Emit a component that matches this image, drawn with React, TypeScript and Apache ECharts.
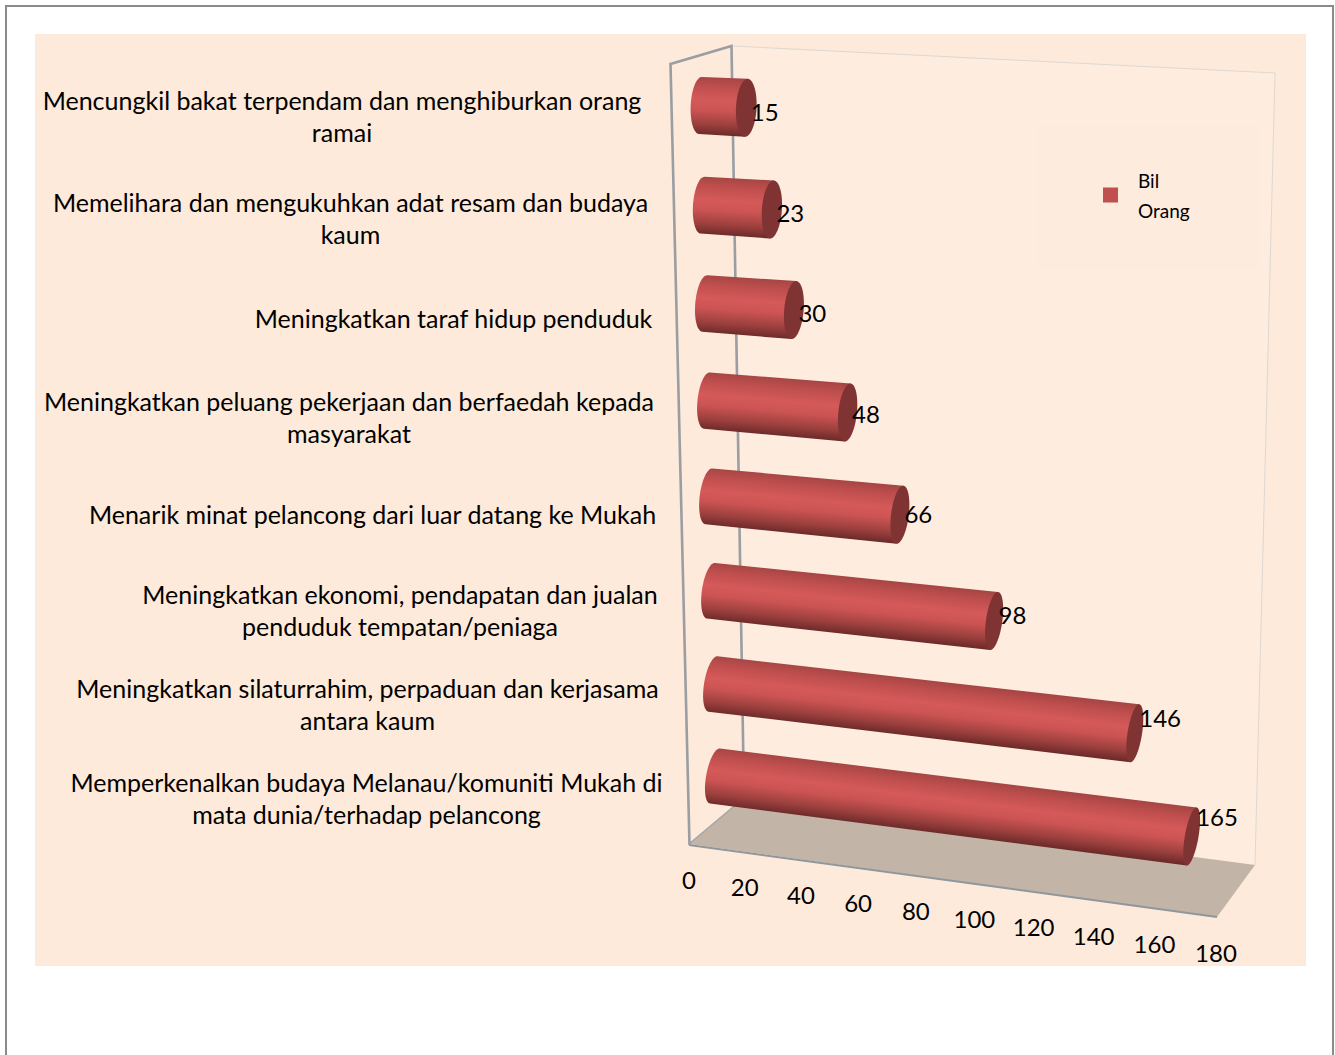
import React, { useEffect, useRef } from "react";
import * as echarts from "echarts";

// ---- data ----
const categories = [
  "Mencungkil bakat terpendam dan menghiburkan orang\nramai",
  "Memelihara dan mengukuhkan adat resam dan budaya\nkaum",
  "Meningkatkan taraf hidup penduduk",
  "Meningkatkan peluang pekerjaan dan berfaedah kepada\nmasyarakat",
  "Menarik minat pelancong dari luar datang ke Mukah",
  "Meningkatkan ekonomi, pendapatan dan jualan\npenduduk tempatan/peniaga",
  "Meningkatkan silaturrahim, perpaduan dan kerjasama\nantara kaum",
  "Memperkenalkan budaya Melanau/komuniti Mukah di\nmata dunia/terhadap pelancong",
];
const values = [15, 23, 30, 48, 66, 98, 146, 165];
const xTicks = [0, 20, 40, 60, 80, 100, 120, 140, 160, 180];
const seriesName = "Bil\nOrang";

// ---- layout (not data) ----
const labelCentreX = [342, 350.5, 453.5, 349, 372.5, 400, 367.5, 366.5];
const labelCentreY = [116, 218, 318, 417, 514, 610, 704, 797.5];
const FONT = "Lato, 'Open Sans', sans-serif";
const LABEL_SIZE = 25;
const VALUE_SIZE = 24;
const RED = "#C0504D";

type Pt = [number, number];
const mix = (a: number, b: number, t: number) => a + (b - a) * t;

// Plane of the bar axes: left ends at the first|last category, and the length
// of the full value range, which shrinks with depth and then levels off.
const cornerTL: Pt = [700.5, 105.5];
const cornerBL: Pt = [715, 776];
const rightYTop = 133.5;
const rightYBottom = 842;
const fullLengthTop = 549;
const fullLengthBottom = 520;

function project(u: number, v: number): Pt {
  const a = 1.048;
  const t = (v * a) / (1 + (a - 1) * v);
  const lx = mix(cornerTL[0], cornerBL[0], t);
  const ly = mix(cornerTL[1], cornerBL[1], t);
  const rx = lx + mix(fullLengthTop, fullLengthBottom, Math.min(1, t / 0.6));
  const ry = mix(rightYTop, rightYBottom, t);
  return [mix(lx, rx, u), mix(ly, ry, u)];
}

function ellipse(c: Pt, m: Pt, n: Pt, from: number, to: number, steps = 36): Pt[] {
  const out: Pt[] = [];
  for (let i = 0; i <= steps; i++) {
    const th = from + ((to - from) * i) / steps;
    out.push([
      c[0] + Math.cos(th) * m[0] + Math.sin(th) * n[0],
      c[1] + Math.cos(th) * m[1] + Math.sin(th) * n[1],
    ]);
  }
  return out;
}

// grid pixel -> normalised axis position, through the chart's own scales
function normalised(params: any, api: any, value: number, index: number) {
  const p = api.coord([value, index]);
  const cs = params.coordSys;
  const u = (p[0] - cs.x) / cs.width;
  const band = (p[1] - cs.y) / cs.height;
  const n = categories.length;
  const v = (band * n - 0.5) / (n - 1);
  return { u, v };
}

function renderBar(params: any, api: any) {
  const value = api.value(0);
  const index = api.value(1);
  const { u, v } = normalised(params, api, value, index);
  const start = project(0, v);
  const end = project(u, v);
  const dx = end[0] - start[0];
  const slope = (end[1] - start[1]) / dx;

  const tilt = mix(1.5, 5, v);
  const ryStart = mix(28.5, 27.5, v);
  const ryEnd = 29;
  const bStart = mix(9.8, 8.7, v);
  const bEnd = 10.5 - 1.2 * v - 2.8 * u;

  const mS: Pt = [tilt, -ryStart];
  const mE: Pt = [tilt, -ryEnd];
  const nS: Pt = [bStart, bStart * slope];
  const nE: Pt = [bEnd, bEnd * slope];

  // left half of the start ellipse, then straight to the end ellipse
  const leftArc = ellipse(start, mS, nS, 2 * Math.PI, Math.PI);
  const endTop: Pt = [end[0] + mE[0], end[1] + mE[1]];
  const endBottom: Pt = [end[0] - mE[0], end[1] - mE[1]];
  const body = [...leftArc, endBottom, endTop];

  const mid: Pt = [(start[0] + end[0]) / 2, (start[1] + end[1]) / 2];
  const r = (ryStart + ryEnd) / 2;
  const nl = Math.hypot(1, slope);
  const g = new echarts.graphic.LinearGradient(
    mid[0] + (slope / nl) * r,
    mid[1] - (1 / nl) * r,
    mid[0] - (slope / nl) * r,
    mid[1] + (1 / nl) * r,
    [
      { offset: 0, color: "#A64644" },
      { offset: 0.15, color: "#BD4E4D" },
      { offset: 0.4, color: "#D55A59" },
      { offset: 0.58, color: "#CB5453" },
      { offset: 0.82, color: "#9C403E" },
      { offset: 1, color: "#6E2B2A" },
    ],
    true
  );

  const labelY = end[1] + 5.2 - 0.07 * value - 0.0005 * value * value;
  return {
    type: "group",
    children: [
      { type: "polygon", shape: { points: body }, style: { fill: g } },
      {
        type: "polygon",
        shape: { points: ellipse(end, mE, nE, 0, 2 * Math.PI, 72) },
        style: { fill: "#7F3433" },
      },
      {
        type: "text",
        style: {
          x: end[0] + 4.5,
          y: labelY,
          text: String(value),
          fill: "#000",
          font: `${VALUE_SIZE}px ${FONT}`,
          align: "left",
          verticalAlign: "middle",
        },
      },
    ],
  };
}

function renderCategory(_params: any, api: any) {
  const i = api.value(0);
  return {
    type: "text",
    style: {
      x: labelCentreX[i],
      y: labelCentreY[i],
      text: categories[i],
      fill: "#000",
      font: `${LABEL_SIZE}px ${FONT}`,
      align: "center",
      verticalAlign: "middle",
      lineHeight: 32,
    },
  };
}

function renderTick(_params: any, api: any) {
  const tick = api.value(0);
  const u = tick / xTicks[xTicks.length - 1];
  const a = 0.945;
  const f = (u * a) / (1 + (a - 1) * u);
  return {
    type: "text",
    style: {
      x: 689 + 527 * f,
      y: 879 + 73 * f,
      text: String(tick),
      fill: "#000",
      font: `${VALUE_SIZE}px ${FONT}`,
      align: "center",
      verticalAlign: "middle",
    },
  };
}

const backdrop = [
  { type: "rect", z: 0, shape: { x: 6, y: 6, width: 1327, height: 1060 }, style: { fill: "#fff", stroke: "#8A8A8A", lineWidth: 2 } },
  { type: "rect", z: 1, shape: { x: 35, y: 34, width: 1271, height: 932 }, style: { fill: "#FDEADA" } },
  { type: "polygon", z: 2, shape: { points: [[732, 46], [1275, 73], [1255, 865], [745, 797]] }, style: { fill: "#FEECDF" } },
  { type: "rect", z: 2, shape: { x: 1037, y: 125, width: 221, height: 143 }, style: { fill: "#FDEBDD" } },
  { type: "polygon", z: 3, shape: { points: [[689, 844], [745, 797], [1255, 865], [1217, 917]] }, style: { fill: "#C2B4A6" } },
  { type: "polyline", z: 4, shape: { points: [[732, 46], [1275, 73], [1255, 865]] }, style: { fill: "none", stroke: "#DDD8D2", lineWidth: 1 } },
  { type: "polyline", z: 4, shape: { points: [[689, 844], [745, 797]] }, style: { fill: "none", stroke: "#A3A7A9", lineWidth: 1.5 } },
  { type: "polyline", z: 4, shape: { points: [[689, 845], [1217, 917]] }, style: { fill: "none", stroke: "#8F979C", lineWidth: 2 } },
  { type: "polyline", z: 4, shape: { points: [[689.5, 845], [670.5, 64], [731.5, 46], [744, 797]] }, style: { fill: "none", stroke: "#9A9EA2", lineWidth: 2.6 } },
];

export default function App() {
  const ref = useRef<HTMLDivElement>(null);
  useEffect(() => {
    if (!ref.current) return;
    const chart = echarts.init(ref.current, undefined, { renderer: "svg" });
    chart.setOption({
      animation: false,
      backgroundColor: "#fff",
      grid: { left: 0, top: 0, width: 1000, height: 800, show: false },
      xAxis: { type: "value", min: 0, max: 180, interval: 20, show: false },
      yAxis: { type: "category", data: categories, inverse: true, show: false },
      graphic: { elements: backdrop },
      legend: {
        left: 1098,
        top: 160,
        orient: "vertical",
        itemWidth: 15,
        itemHeight: 15,
        data: [{ name: seriesName, icon: "rect", itemStyle: { color: RED } }],
        textStyle: { color: "#000", fontFamily: FONT, fontSize: 19, lineHeight: 30, padding: [0, 0, 0, 15] },
      },
      series: [
        {
          type: "custom",
          name: seriesName,
          coordinateSystem: "cartesian2d",
          renderItem: renderBar,
          itemStyle: { color: RED },
          encode: { x: 0, y: 1 },
          data: values.map((value, i) => [value, i]),
          z: 5,
        },
        {
          type: "custom",
          name: "categoryLabels",
          coordinateSystem: "none",
          renderItem: renderCategory,
          data: categories.map((_, i) => [i]),
          z: 6,
          silent: true,
        },
        {
          type: "custom",
          name: "tickLabels",
          coordinateSystem: "none",
          renderItem: renderTick,
          data: xTicks.map((t) => [t]),
          z: 6,
          silent: true,
        },
      ],
    });
    return () => chart.dispose();
  }, []);
  return <div ref={ref} style={{ position: "absolute", left: 0, top: 0, width: 1335, height: 1055 }} />;
}
